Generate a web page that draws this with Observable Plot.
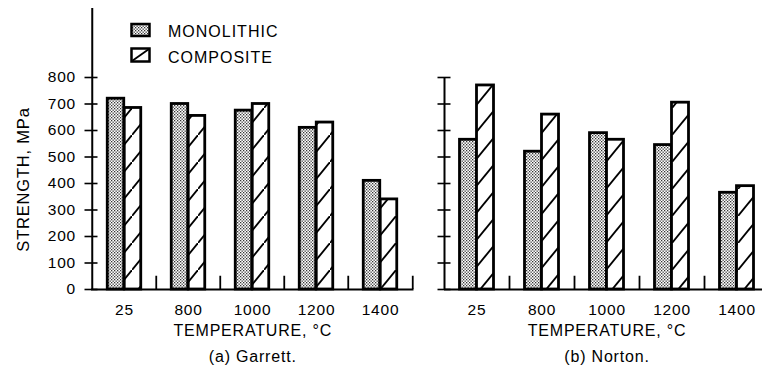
<!DOCTYPE html>
<html><head><meta charset="utf-8">
<script src="https://cdn.jsdelivr.net/npm/d3@7"></script>
<script src="https://cdn.jsdelivr.net/npm/@observablehq/plot@0.6"></script>
<style>
html,body{margin:0;padding:0;background:#fff;width:762px;height:372px;overflow:hidden;}
#wrap{position:relative;width:762px;height:372px;font-family:"Liberation Sans",Arial,sans-serif;color:#000;overflow:hidden;}
.panel{position:absolute;top:0;height:372px;}
.panel svg text{letter-spacing:0.8px;}
#legend{position:absolute;left:0;top:0;}
#legend text{font-family:"Liberation Sans",Arial,sans-serif;font-size:16px;letter-spacing:1px;}
</style></head><body>
<svg width="0" height="0" style="position:absolute"><defs>
<pattern id="stipple" patternUnits="userSpaceOnUse" width="3" height="3"><rect width="3" height="3" fill="#fff"/><rect x="0" y="0" width="1.3" height="1.3" fill="#333"/><rect x="1.5" y="1.5" width="1.3" height="1.3" fill="#333"/></pattern>
<pattern id="hatch" patternUnits="userSpaceOnUse" width="22" height="27"><rect width="22" height="27" fill="#fff"/><path d="M-2,29.45 L24,-2.45" stroke="#000" stroke-width="1.8"/></pattern>
</defs></svg>
<div id="wrap">
  <div id="left" class="panel" style="left:0;width:430px"></div>
  <div id="right" class="panel" style="left:430px;width:340px"></div>
  <svg id="legend" width="300" height="80">
    <rect x="131.5" y="24" width="18" height="12" fill="url(#stipple)" stroke="#000" stroke-width="2.5"/>
    <rect x="131.5" y="48.5" width="18" height="13" fill="#fff" stroke="#000" stroke-width="2.5"/>
    <line x1="132" y1="61" x2="149" y2="49" stroke="#000" stroke-width="1.8"/>
    <text id="lg1" x="168" y="36.5"></text>
    <text id="lg2" x="168" y="63"></text>
  </svg>
</div>
<script>
const temperatures = ["25", "800", "1000", "1200", "1400"];
const seriesNames = ["MONOLITHIC", "COMPOSITE"];
const garrettMonolithic = [720, 700, 675, 610, 410];
const garrettComposite = [685, 655, 700, 630, 340];
const nortonMonolithic = [565, 520, 590, 545, 365];
const nortonComposite = [770, 660, 565, 705, 390];
const strengthTicks = [0, 100, 200, 300, 400, 500, 600, 700, 800];
const xLabel = "TEMPERATURE, °C";
const yLabel = "STRENGTH, MPa";
const captions = ["(a) Garrett.", "(b) Norton."];

document.getElementById("lg1").textContent = seriesNames[0];
document.getElementById("lg2").textContent = seriesNames[1];

function rows(mono, comp) {
  return temperatures.flatMap((t, i) => [
    {temp: t, series: seriesNames[0], value: mono[i]},
    {temp: t, series: seriesNames[1], value: comp[i]}
  ]);
}

function panel({mono, comp, width, marginLeft, marginRight, caption, showLabels, axisTop, endTick}) {
  const data = rows(mono, comp);
  const bw = (width - marginLeft - marginRight) / temperatures.length;
  const barW = 17;
  const marks = [
    Plot.barY(data.filter(d => d.series === seriesNames[0]), {x: "temp", y: "value", fill: "url(#stipple)", stroke: "#000", strokeWidth: 2.8, insetLeft: bw / 2 - barW, insetRight: bw / 2}),
    Plot.barY(data.filter(d => d.series === seriesNames[1]), {x: "temp", y: "value", fill: "url(#hatch)", stroke: "#000", strokeWidth: 2.8, insetLeft: bw / 2, insetRight: bw / 2 - barW}),
    Plot.ruleY([0], {stroke: "#000", strokeWidth: 2}),
    Plot.ruleX([temperatures[0]], {x: d => d, y1: 0, y2: axisTop, dx: -bw / 2, stroke: "#000", strokeWidth: 2}),
    Plot.ruleX(temperatures.slice(1), {x: d => d, y1: 0, y2: 50, dx: -bw / 2, stroke: "#000", strokeWidth: 1.8}),
    Plot.axisY(strengthTicks, {tickSize: 13, dx: 6.5, tickPadding: 9, strokeWidth: 1.6, fontSize: 15.5, label: null, tickFormat: showLabels ? d => String(d) : () => ""}),
    Plot.text(temperatures, {x: d => d, text: d => d, frameAnchor: "bottom", lineAnchor: "bottom", dy: 25, fontSize: 15.5}),
    Plot.text([xLabel], {text: d => d, frameAnchor: "bottom", lineAnchor: "bottom", dy: 46, fontSize: 16}),
    Plot.text([caption], {text: d => d, frameAnchor: "bottom", lineAnchor: "bottom", dy: 72, fontSize: 16})
  ];
  if (endTick) marks.push(Plot.ruleX([temperatures[temperatures.length - 1]], {x: d => d, y1: 0, y2: 50, dx: bw / 2, stroke: "#000", strokeWidth: 1.8}));
  if (showLabels) marks.push(Plot.text([yLabel], {text: d => d, frameAnchor: "left", textAnchor: "middle", rotate: -90, lineAnchor: "bottom", dx: 28 - marginLeft, dy: -4, fontSize: 16.5}));
  return Plot.plot({
    width, height: 372,
    marginLeft, marginRight, marginTop: 77, marginBottom: 83,
    x: {domain: temperatures, padding: 0, axis: null},
    y: {domain: [0, 800], label: null},
    style: {fontFamily: "Liberation Sans, Arial, sans-serif", background: "transparent", overflow: "visible", color: "#000"},
    marks
  });
}

document.getElementById("left").append(panel({
  mono: garrettMonolithic, comp: garrettComposite, width: 430, marginLeft: 91, marginRight: 16.5,
  caption: captions[0], showLabels: true, axisTop: 1060, endTick: true
}));
document.getElementById("right").append(panel({
  mono: nortonMonolithic, comp: nortonComposite, width: 340, marginLeft: 14, marginRight: 1,
  caption: captions[1], showLabels: false, axisTop: 800, endTick: false
}));
</script>
</body></html>
